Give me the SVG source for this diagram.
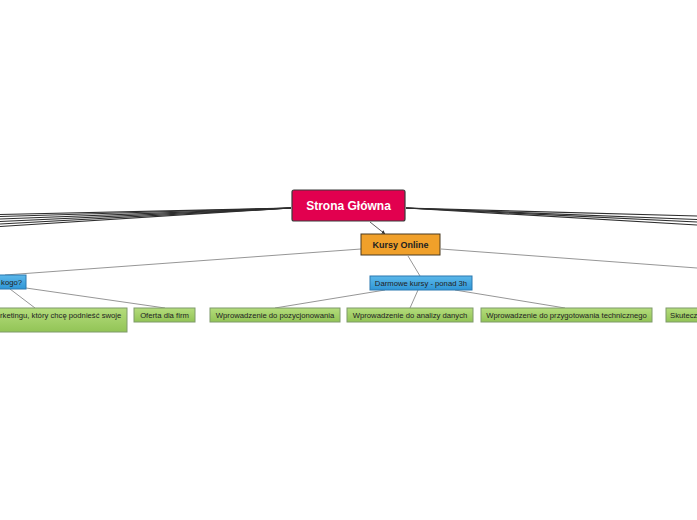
<svg xmlns="http://www.w3.org/2000/svg" width="697" height="520" viewBox="0 0 697 520">
<defs>
<linearGradient id="gGreen" x1="0" y1="0" x2="0" y2="1">
<stop offset="0" stop-color="#b4dc7c"/><stop offset="1" stop-color="#92c456"/>
</linearGradient>
<linearGradient id="gBlue" x1="0" y1="0" x2="0" y2="1">
<stop offset="0" stop-color="#5cb8ea"/><stop offset="1" stop-color="#2f96d6"/>
</linearGradient>
<marker id="arr" viewBox="0 0 10 10" refX="9" refY="5" markerWidth="5" markerHeight="5" orient="auto">
<path d="M0,0 L10,5 L0,10 z" fill="#333"/>
</marker>
<style>
.main{stroke:#2e2e2e;stroke-width:1.2;fill:none}
.sub{stroke:#8a8a8a;stroke-width:0.9;fill:none}
.green{fill:url(#gGreen);stroke:#7f9a6a;stroke-width:1}
.blue{fill:url(#gBlue);stroke:#2a79b0;stroke-width:1}
.t{font-family:"Liberation Sans",Arial,sans-serif;fill:#222}
.small{font-size:7.7px}
</style>
</defs>
<rect width="697" height="520" fill="#ffffff"/>
<g id="connectors">
<line class="main" x1="291" y1="208" x2="0" y2="214.5"/>
<line class="main" x1="291" y1="208" x2="0" y2="216.5"/>
<line class="main" x1="291" y1="208" x2="0" y2="219"/>
<line class="main" x1="291" y1="208" x2="0" y2="221.5"/>
<line class="main" x1="291" y1="208" x2="0" y2="224"/>
<line class="main" x1="291" y1="208" x2="0" y2="226.5"/>
<line class="main" x1="406" y1="208" x2="697" y2="216"/>
<line class="main" x1="406" y1="208" x2="697" y2="219.5"/>
<line class="main" x1="406" y1="208" x2="697" y2="222"/>
<line class="main" x1="406" y1="208" x2="697" y2="225"/>
<line stroke="#333" stroke-width="0.8" x1="370" y1="222" x2="385" y2="234" marker-end="url(#arr)"/>
<line class="sub" x1="361" y1="249" x2="5" y2="275"/>
<line class="sub" x1="408" y1="256" x2="420" y2="276"/>
<line class="sub" x1="441" y1="249" x2="697" y2="268"/>
<line class="sub" x1="10" y1="289" x2="35" y2="308"/>
<line class="sub" x1="26" y1="288" x2="165" y2="308"/>
<line class="sub" x1="385" y1="290" x2="275" y2="308"/>
<line class="sub" x1="418" y1="290" x2="410" y2="308"/>
<line class="sub" x1="455" y1="290" x2="565" y2="308"/>
</g>
<g id="root">
<rect x="292" y="190" width="113" height="31" rx="2" fill="#e2004f" stroke="#3a3a3a" stroke-width="1.2"/>
<text class="t" x="348.5" y="210" text-anchor="middle" font-size="12" font-weight="bold" style="fill:#fff">Strona Główna</text>
</g>
<g id="kursy-online">
<rect x="361" y="234" width="79" height="21" fill="#f0a02a" stroke="#4a3a20" stroke-width="1"/>
<text class="t" x="400.5" y="248" text-anchor="middle" font-size="9" font-weight="bold">Kursy Online</text>
</g>
<g id="dla-kogo">
<rect class="blue" x="-40" y="275" width="66" height="14"/>
<text class="t small" x="22" y="284.5" text-anchor="end">kogo?</text>
</g>
<g id="darmowe">
<rect class="blue" x="370" y="276" width="102" height="14"/>
<text class="t small" x="421" y="285.5" text-anchor="middle">Darmowe kursy - ponad 3h</text>
</g>
<g id="specjalista">
<rect class="green" x="-60" y="308" width="187" height="24"/>
<text class="t small" x="0" y="317.5">rketingu, który chcę podnieść swoje</text>
</g>
<g id="oferta">
<rect class="green" x="134" y="308" width="61" height="14"/>
<text class="t small" x="164.5" y="317.5" text-anchor="middle">Oferta dla firm</text>
</g>
<g id="pozycjonowanie">
<rect class="green" x="210" y="308" width="130" height="14"/>
<text class="t small" x="275" y="317.5" text-anchor="middle">Wprowadzenie do pozycjonowania</text>
</g>
<g id="analiza">
<rect class="green" x="347" y="308" width="126" height="14"/>
<text class="t small" x="410" y="317.5" text-anchor="middle">Wprowadzenie do analizy danych</text>
</g>
<g id="przygotowanie">
<rect class="green" x="481" y="308" width="171" height="14"/>
<text class="t small" x="566.5" y="317.5" text-anchor="middle">Wprowadzenie do przygotowania technicznego</text>
</g>
<g id="skutecz">
<rect class="green" x="666" y="308" width="60" height="14"/>
<text class="t small" x="670" y="317.5">Skutecz</text>
</g>
</svg>
